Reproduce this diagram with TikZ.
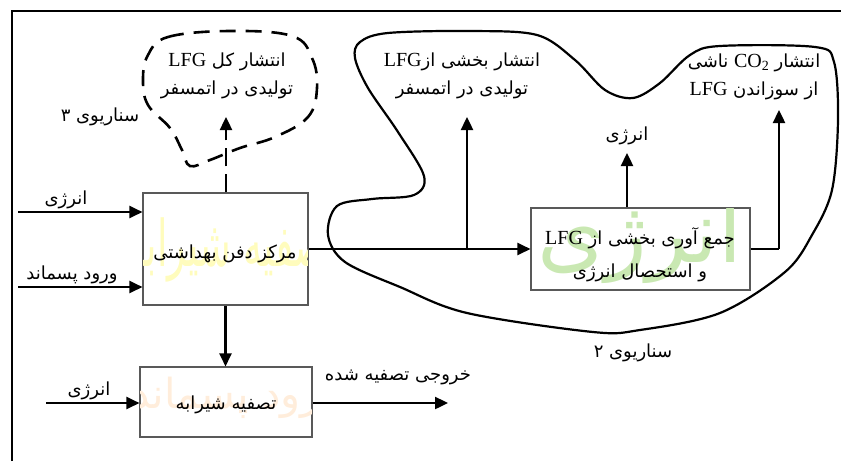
\documentclass[tikz,border=0pt]{standalone}
\usepackage{fontspec}
\setmainfont{Liberation Serif}
\newfontfamily\fa[Script=Arabic,Scale=0.9]{DejaVu Sans}
\TeXXeTstate=1
\usetikzlibrary{arrows.meta}
\newcommand\fatxt[1]{{\fa\beginR #1\endR}}
\newcommand\lat[1]{\hbox{\rmfamily\beginL #1\endL}}
\newcommand\cotwo{\hbox{\rmfamily\beginL CO\raisebox{-0.3ex}{\fontsize{14}{14}\selectfont 2}\endL}}
\tikzset{
  box/.style={draw=black!65, line width=1.1pt, fill=none, inner sep=0pt},
  arr/.style={line width=2.4pt, -{Triangle[length=13pt,width=12pt]}},
  ln/.style={line width=2.4pt},
  lbl/.style={font=\fontsize{20}{28}\selectfont, align=center, inner sep=0pt},
  blobline/.style={line width=2.2pt, line join=round},
  cloudline/.style={line width=2.6pt, dash pattern=on 16pt off 10pt},
  wm/.style={inner sep=0pt}
}
\begin{document}
\begin{tikzpicture}[x=1pt,y=-1pt]
\useasboundingbox (0,0) rectangle (841,461);
% frame
\draw[line width=2.6pt] (12,461) -- (12,11) -- (841,11);

% boxes (named)
\node[box, minimum width=165pt, minimum height=112pt] (b1) at (225.5,249) {};
\node[box, minimum width=172pt, minimum height=70pt] (b2) at (226,402) {};
\node[box, minimum width=219pt, minimum height=82pt] (b3) at (640.5,249) {};

% faint watermarks
\begin{scope}
\clip (b1.south west) rectangle (b1.north east);
\node[wm, text=yellow!26, font=\fontsize{42}{42}\selectfont, yscale=1.7] at (232,250) {\fatxt{تصفیه شیرابه}};
\end{scope}
\begin{scope}
\clip (b2.south west) rectangle (b2.north east);
\node[wm, text=orange!14, font=\fontsize{46}{46}\selectfont] at (236,398) {\fatxt{ورود پسماند}};
\end{scope}
\begin{scope}
\clip (b3.south west) rectangle (b3.north east);
\node[wm, text=green!40!olive!30, font=\fontsize{96}{96}\selectfont] at (640,240) {\fatxt{انرژی}};
\end{scope}
\draw[box] (b1.south west) rectangle (b1.north east);
\draw[box] (b2.south west) rectangle (b2.north east);
\draw[box] (b3.south west) rectangle (b3.north east);

% box texts
\node[lbl] (t1) at (225,254) {\fatxt{مرکز دفن بهداشتی}};
\node[lbl] (t2) at (226,405) {\fatxt{تصفیه شیرابه}};
\node[lbl, font=\fontsize{20}{33}\selectfont] (t3) at (640,255) {\fatxt{جمع آوری بخشی از \lat{LFG}}\\\fatxt{و استحصال انرژی}};

% scenario 2 blob
\draw[blobline] plot[smooth cycle, tension=0.55] coordinates {
 (360,42) (388,33) (470,31) (537,35) (575,60) (605,90) (633,98) (660,83)
 (690,55) (720,46) (815,47) (834,62) (838,120) (832,190) (812,235) (785,272)
 (720,313) (640,330) (593,332) (467,313) (400,287) (345,262) (328,235)
 (337,206) (372,199) (414,195) (424,176) (398,132) (368,88) (355,58)};

% scenario 3 dashed cloud
\draw[cloudline] plot[smooth cycle, tension=0.65] coordinates {
 (148,55) (168,37) (230,31) (292,36) (312,58) (317,88) (308,117) (275,137)
 (240,148) (210,160) (190,166) (182,150) (170,128) (148,105) (143,80)};

% coordinates for free ends
\coordinate (in1) at (18,212);
\coordinate (in2) at (18,287);
\coordinate (in3) at (46,403);
\coordinate (out2) at (448,403);
\coordinate (up1) at (226,117);
\coordinate (br) at (467,249);
\coordinate (up2) at (467,117);
\coordinate (up3) at (627,153);
\coordinate (cr) at (779,249);
\coordinate (up4) at (779,110);

% connectors
\draw[arr] (in1) -- (in1 -| b1.west);
\draw[arr] (in2) -- (in2 -| b1.west);
\draw[arr] (b1.south) -- (b1.south |- b2.north);
\draw[arr] (in3) -- (in3 -| b2.west);
\draw[arr] (b2.east |- out2) -- (out2);
\draw[line width=2.4pt, dash pattern=on 18pt off 8pt, -{Triangle[length=13pt,width=12pt]}] (b1.north -| up1) -- (up1);
\draw[arr] (b1.east |- b3.west) -- (b3.west);
\draw[arr] (br) -- (up2);
\draw[arr] (b3.north -| up3) -- (up3);
\draw[ln] (b3.east) -- (cr);
\draw[arr] (cr) -- (up4);

% labels
\node[lbl] (l1) at (66,200) {\fatxt{انرژی}};
\node[lbl] (l2) at (72,275) {\fatxt{ورود پسماند}};
\node[lbl] (l3) at (89,391) {\fatxt{انرژی}};
\node[lbl] (l4) at (398,377) {\fatxt{خروجی تصفیه شده}};
\node[lbl] (l5) at (227,76) {\fatxt{انتشار کل \lat{LFG}}\\\fatxt{تولیدی در اتمسفر}};
\node[lbl] (l6) at (100,117) {\fatxt{سناریوی ۳}};
\node[lbl] (l7) at (462,76) {\fatxt{انتشار بخشی از\lat{LFG}}\\\fatxt{تولیدی در اتمسفر}};
\node[lbl] (l8) at (627,136) {\fatxt{انرژی}};
\node[lbl] (l9) at (754,77) {\fatxt{انتشار \cotwo{} ناشی}\\\fatxt{از سوزاندن \lat{LFG}}};
\node[lbl] (l10) at (633,353) {\fatxt{سناریوی ۲}};
\end{tikzpicture}
\end{document}
